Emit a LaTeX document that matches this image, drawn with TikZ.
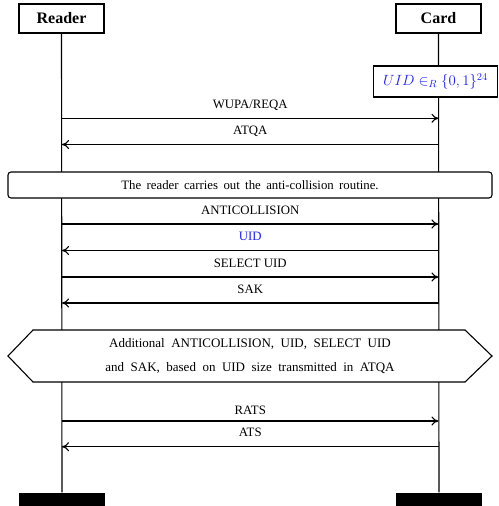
\RequirePackage{fix-cm}
\documentclass[tikz,border=0pt]{standalone}
\usepackage{fontspec}
\setmainfont{Liberation Serif}
\usepackage{xcolor}
\usepackage{tikz}
\usetikzlibrary{arrows.meta,positioning}
\definecolor{uidblue}{HTML}{2020FF}
\newcommand\widespace[1]{\spaceskip=#1\relax}

\begin{document}
\begin{tikzpicture}[x=1pt,y=-1pt,>={To[length=7pt,width=9pt]},line width=1.1pt,
  party/.style={draw,fill=white,minimum width=85pt,minimum height=29pt,font=\fontsize{16}{18}\selectfont\bfseries},
  endbar/.style={fill=black,minimum width=86pt,minimum height=13pt,inner sep=0pt},
  msg/.style={->},
  lbl/.style={anchor=base,yshift=10pt,inner sep=0pt,font=\fontsize{12.8}{15}\selectfont}]
\useasboundingbox (0,0) rectangle (498,506);
\node[party] (reader) at (61.5,18.5) {Reader};
\node[party] (card) at (438.5,18.5) {Card};
\node[endbar] (readerend) at (62,499.5) {};
\node[endbar] (cardend) at (439,499.5) {};
\draw (reader.south) -- (readerend.north);
\draw (card.south) -- (cardend.north);
\node[draw,fill=white,minimum width=124pt,minimum height=31pt,inner sep=2pt,text=uidblue,font=\fontsize{14.8}{18}\selectfont] (uid) at (435.5,81.5) {$UID \in_R \{0,1\}^{24}$};

% reader and card messages
\coordinate (wupaR) at (62,118.3); \coordinate (wupaC) at (438.5,118.3);
\coordinate (atqaR) at (62,144.5); \coordinate (atqaC) at (438.5,144.5);
\coordinate (antiR) at (62,224); \coordinate (antiC) at (438.5,224);
\coordinate (uidR) at (62,250.5); \coordinate (uidC) at (438.5,250.5);
\coordinate (selR) at (62,277); \coordinate (selC) at (438.5,277);
\coordinate (sakR) at (62,303); \coordinate (sakC) at (438.5,303);
\coordinate (ratsR) at (62,421); \coordinate (ratsC) at (438.5,421);
\coordinate (atsR) at (62,446.7); \coordinate (atsC) at (438.5,446.7);
\draw[msg] (wupaR)--node[lbl]{WUPA/REQA}(wupaC);
\draw[msg] (atqaC)--node[lbl]{ATQA}(atqaR);
\draw[msg] (antiR)--node[lbl]{ANTICOLLISION}(antiC);
\draw[msg] (uidC)--node[lbl,text=uidblue]{UID}(uidR);
\draw[msg] (selR)--node[lbl]{SELECT UID}(selC);
\draw[msg] (sakC)--node[lbl]{SAK}(sakR);
\draw[msg] (ratsR)--node[lbl,yshift=-3pt]{RATS}(ratsC);
\draw[msg] (atsC)--node[lbl]{ATS}(atsR);

% notes across both lifelines
\node[draw,fill=white,rounded corners=3pt,minimum width=484pt,minimum height=26pt,font=\fontsize{12.8}{15}\selectfont] (routine) at (250,185) {\widespace{0.42em}The reader carries out the anti-collision routine.};
\filldraw[fill=white] (8,356) -- (33,330) -- (465,330) -- (492,356) -- (465,382) -- (33,382) -- cycle;
\node[align=center,font=\fontsize{13}{24}\selectfont] (extra) at (250,356) {\widespace{0.5em}Additional ANTICOLLISION, UID, SELECT UID\\\widespace{0.5em}and SAK, based on UID size transmitted in ATQA};
\end{tikzpicture}
\end{document}
